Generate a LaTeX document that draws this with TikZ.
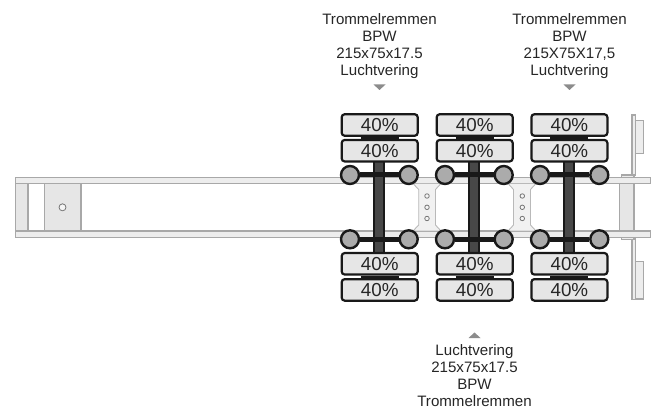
\documentclass[tikz,border=0pt]{standalone}
\usepackage{fontspec}
\setmainfont{Liberation Sans}
\definecolor{framegray}{HTML}{A8A8A8}
\definecolor{panel}{HTML}{E6E6E6}
\definecolor{axle}{HTML}{484848}
\definecolor{hub}{HTML}{ABABAB}
\definecolor{tri}{HTML}{8C8C8C}
\tikzset{
  frm/.style={draw=framegray,line width=1.3pt,fill=panel!70!white},
  frmfill/.style={draw=framegray,line width=1.3pt,fill=panel},
  plate/.style={draw=framegray!80!white,line width=.9pt,fill=panel!55!white},
  hole/.style={circle,draw=framegray!70!black,line width=.8pt,fill=panel!40!white,minimum size=4.5pt,inner sep=0pt},
  tyre/.style={draw=black!90,line width=2.2pt,fill=panel,rounded corners=3pt,minimum width=76pt,minimum height=21.5pt,inner sep=0pt,font=\fontsize{18.8}{19}\selectfont,text=black!85},
  wheelhub/.style={circle,draw=black!90,line width=2.4pt,fill=hub,minimum size=18pt,inner sep=0pt},
  beam/.style={draw=black!90,line width=5pt},
  link/.style={draw=black!90,line width=2.8pt},
  axlebar/.style={draw=black!90,line width=2pt,fill=axle},
  info/.style={align=center,font=\fontsize{15.1}{17}\selectfont,text=black!85,inner sep=0pt},
  marker/.style={fill=tri,draw=none},
}
\begin{document}
\begin{tikzpicture}[x=1pt,y=-1pt]
\useasboundingbox (0,0) rectangle (654,409);
\fill[white] (0,0) rectangle (654,409);
% rear mounting parts
\draw[frm] (632,115) rectangle (635.7,175.5);
\draw[frm] (635.7,120.7) rectangle (643.3,153.3);
\draw[frm] (632,239) rectangle (635.7,299.3);
\draw[frm] (635.7,261.3) rectangle (643.3,299);
\draw[frm] (621.7,175) rectangle (634,177.5);
\draw[frm] (621.7,237.5) rectangle (634,239.5);
% frame
\draw[frm] (15.5,177.5) rectangle (650.7,183.5);
\draw[frm] (15.5,231) rectangle (650.7,237.5);
\draw[frmfill] (15.5,183.5) rectangle (28,231);
\draw[frmfill] (44.5,183.5) rectangle (81,231);
\node[hole,minimum size=7pt] (pin) at (62.5,207.3) {};
\draw[frmfill] (619.5,183.5) rectangle (634,231);
% plates
\draw[plate] (413,183.5) -- (418.7,189.5) -- (418.7,225) -- (413,231) -- (441,231) -- (435.5,225) -- (435.5,189.5) -- (441,183.5) -- cycle;
\draw[plate] (508,183.5) -- (513.5,189.5) -- (513.5,225) -- (508,231) -- (536,231) -- (530.5,225) -- (530.5,189.5) -- (536,183.5) -- cycle;
\foreach \px/\pn in {427/a,522.3/b}{
  \node[hole] (dot\pn1) at (\px,196) {};
  \node[hole] (dot\pn2) at (\px,207.3) {};
  \node[hole] (dot\pn3) at (\px,218.5) {};
}
% axles
\foreach \n/\cx/\lx/\rx in {1/379.7/350/408.7,2/474.7/445/503.7,3/569.4/540/599.3}{
  \coordinate (top\n) at (\cx-.7,161);
  \coordinate (bot\n) at (\cx-.7,253);
  \draw[axlebar] ([xshift=-5.2pt]top\n) rectangle ([xshift=5.2pt]bot\n);
  \node[tyre] (t\n a) at (\cx,125) {40\%};
  \node[tyre] (t\n b) at (\cx,150.7) {40\%};
  \node[tyre] (t\n c) at (\cx,263.8) {40\%};
  \node[tyre] (t\n d) at (\cx,289.9) {40\%};
  \draw[link] ([xshift=-19pt,yshift=-1.4pt]t\n a.south) -- ([xshift=19pt,yshift=-1.4pt]t\n a.south);
  \draw[link] ([xshift=-19pt,yshift=-1.4pt]t\n c.south) -- ([xshift=19pt,yshift=-1.4pt]t\n c.south);
  \node[wheelhub] (hl\n) at (\lx,175) {};
  \node[wheelhub] (hr\n) at (\rx,175) {};
  \node[wheelhub] (bl\n) at (\lx,239.3) {};
  \node[wheelhub] (br\n) at (\rx,239.3) {};
  \draw[beam] (hl\n) -- (hr\n);
  \draw[beam] (bl\n) -- (br\n);
}
% labels
\node[info,anchor=north] (la) at (379.5,13) {Trommelremmen\\BPW\\215x75x17.5\\Luchtvering};
\node[info,anchor=north] (lc) at (569.5,13) {Trommelremmen\\BPW\\215X75X17,5\\Luchtvering};
\node[info,anchor=north] (lb) at (474.5,344.5) {Luchtvering\\215x75x17.5\\BPW\\Trommelremmen};
\fill[marker] (373.5,84.5) -- (385.5,84.5) -- (379.5,90) -- cycle;
\fill[marker] (563.5,84.5) -- (575.5,84.5) -- (569.5,90) -- cycle;
\fill[marker] (468.5,338) -- (480.5,338) -- (474.5,332.5) -- cycle;
\end{tikzpicture}
\end{document}
